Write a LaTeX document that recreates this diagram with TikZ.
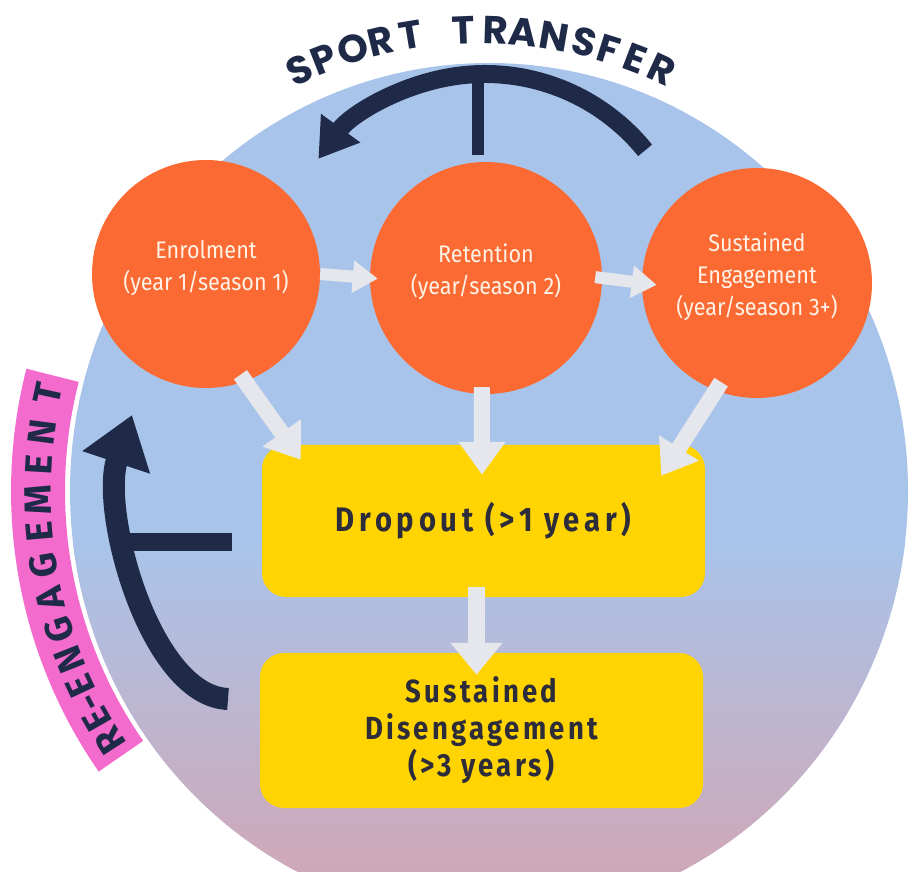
\documentclass[tikz,border=0pt]{standalone}
\usepackage{fontspec}
\setmainfont{Fira Sans}
\newfontfamily\stagefont{Fira Sans}[FakeStretch=0.9]
\newfontfamily\boxfont{Fira Sans}[FakeStretch=0.86, LetterSpace=10]
\newfontfamily\boxfontwide{Fira Sans}[FakeStretch=0.86, LetterSpace=14]
\newfontfamily\titlefont{Poppins}
\newfontfamily\bandfont{Fira Sans}
\usetikzlibrary{arrows.meta,calc}

\definecolor{bgblue}{HTML}{A9C4EA}
\definecolor{bgpink}{HTML}{CFA8B7}
\definecolor{stageorange}{HTML}{FC6A33}
\definecolor{stagetext}{HTML}{FEF2E6}
\definecolor{boxyellow}{HTML}{FFD401}
\definecolor{boxtext}{HTML}{2C2C3A}
\definecolor{navy}{HTML}{1F2A48}
\definecolor{flowgray}{HTML}{E5E7EC}
\definecolor{bandpink}{HTML}{F46BCE}

% two-line / three-line labels set inside the stage circles
\newcommand\stagelabel[1]{\raisebox{0pt}[0pt][0pt]{\begin{tabular}{@{}c@{}}#1\end{tabular}}}

\begin{document}
\begin{tikzpicture}[x=1pt, y=1pt,
  stage/.style={circle, fill=stageorange, inner sep=0pt, minimum size=#1,
    text=stagetext, font=\stagefont\fontsize{24}{32}\selectfont},
  phase/.style={rectangle, rounded corners=24pt, fill=boxyellow, inner sep=0pt,
    minimum width=443pt, minimum height=#1, text=boxtext, align=center,
    font=\boxfont\bfseries\fontsize{32}{37}\selectfont},
  hflow/.style={draw=flowgray, line width=12pt, -{Triangle[length=25pt,width=31pt]}},
  dflow/.style={draw=flowgray, line width=16pt, -{Triangle[length=33pt,width=45pt]}},
  vflow/.style={draw=flowgray, line width=17pt, -{Triangle[length=32pt,width=50pt]}},
  loopline/.style={draw=navy, line width=#1},
  titleletter/.style={inner sep=0pt, text=navy, text height=27pt, text depth=0pt,
    font=\titlefont\bfseries\fontsize{39}{39}\selectfont},
  bandletter/.style={inner sep=0pt, text=navy, text height=26pt, text depth=0pt,
    font=\bandfont\bfseries\fontsize{38}{38}\selectfont},
]
\useasboundingbox (0,0) rectangle (910,871);

% ---- background disc with a soft blue-to-mauve fade --------------------
\coordinate (ell) at (489,380);
\begin{scope}
  \clip (0,0) rectangle (910,871);
  \clip (ell) ellipse [x radius=419pt, y radius=428pt];
  \fill[bgblue] (0,0) rectangle (910,871);
  \shade[top color=bgblue, bottom color=bgpink] (0,0) rectangle (910,330);
\end{scope}

% ---- re-engagement band on the left rim ---------------------------------
\draw[draw=bandpink, line width=54pt]
  ($(ell)+({451*cos(165.4)},{459*sin(165.4)})$)
  arc [start angle=165.4, end angle=215.3, x radius=451pt, y radius=459pt];
\foreach \ch/\ang [count=\i] in {R/212.9,E/209.8,-/207.5,E/205.1,N/201.6,G/197.6,
    A/193.5,G/189.3,E/185.1,M/181.1,E/176.75,N/172.6,T/167.7}
  \node[bandletter, rotate=\ang-90] (re\i)
    at ($(ell)+({451*cos(\ang)},{459*sin(\ang)})$) {\ch};

% ---- sport transfer title and loop arrow --------------------------------
\coordinate (titlec) at (481,411);
\foreach \ch/\ang [count=\i] in {S/115.0,P/111.4,O/107.3,R/103.5,T/99.4,T/92.3,
    R/88.1,A/84.4,N/80.2,S/76.1,F/72.7,E/69.0,R/65.1}
  \node[titleletter, rotate=\ang-90] (sp\i) at ($(titlec)+(\ang:430pt)$) {\ch};

\coordinate (stc) at (485,591);
\coordinate (sttop) at (478,797);
\coordinate (stfoot) at (478,716);
\draw[loopline=18pt, -{Triangle[length=38pt,width=46pt]}]
  ($(stc)+(39:206pt)$) arc [start angle=39, end angle=144, radius=206pt];
\draw[loopline=12pt] (sttop) -- (stfoot);

% ---- re-engagement loop arrow -------------------------------------------
\coordinate (retail) at (228,172);
\coordinate (rehead) at (132,456);
\coordinate (rebar) at (117,329);
\coordinate (rebarend) at (232,329);
\draw[loopline=22pt, -{Triangle[length=50pt,width=68pt]}]
  (retail) .. controls (150,175) and (100,360) .. (rehead);
\draw[loopline=17pt] (rebar) -- (rebarend);

% ---- participation stages ----------------------------------------------
\node[stage=228pt] (enr) at (206,597) {\stagelabel{Enrolment\\(year 1/season 1)}};
\node[stage=232pt] (ret) at (486,593) {\stagelabel{Retention\\(year/season 2)}};
\node[stage=230pt] (se)  at (757,588) {\stagelabel{Sustained\\Engagement\\(year/season 3+)}};

% ---- outcomes -------------------------------------------------------------
\node[phase=152pt, font=\boxfontwide\bfseries\fontsize{34}{37}\selectfont]
  (drop) at (483.5,350) {Dropout (>1 year)};
\node[phase=155pt] (sd) at (481.5,140.5) {Sustained\\Disengagement\\(>3 years)};

% ---- flows between stages and outcomes ----------------------------------
\coordinate (inL) at ($(drop.north west)+(39,-15)$);
\coordinate (inM) at ($(drop.north)+(-1.5,-30)$);
\coordinate (inR) at ($(drop.north east)+(-44,-31)$);

\draw[hflow, shorten >=-8pt] (enr.0) -- (ret.180);
\draw[hflow, shorten <=-7pt, shorten >=-15pt] (ret.0) -- (se.180);
\draw[dflow, shorten <=-8pt] (enr.-70) -- (inL);
\draw[dflow, shorten <=-7pt] (ret.-92) -- (inM);
\draw[dflow, shorten <=-10pt] (se.-111) -- (inR);
\draw[vflow, shorten <=-10pt, shorten >=-22pt] ([xshift=-7pt]drop.south) -- ([xshift=-5pt]sd.north);
\end{tikzpicture}
\end{document}
